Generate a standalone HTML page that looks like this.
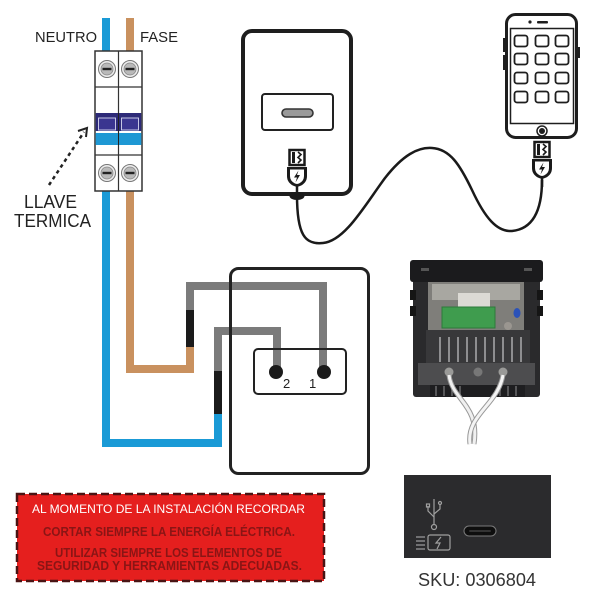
<!DOCTYPE html>
<html>
<head>
<meta charset="utf-8">
<style>
  html,body{margin:0;padding:0;background:#fff;}
  svg{display:block;}
  text{font-family:"Liberation Sans",Arial,sans-serif;}
</style>
</head>
<body>
<svg width="600" height="600" viewBox="0 0 600 600" xmlns="http://www.w3.org/2000/svg">
  <rect width="600" height="600" fill="#fff"/>
  <defs>
    <g id="plug">
      <rect x="-7.5" y="0" width="15" height="15" fill="#fff" stroke="#1a1a1a" stroke-width="2.5"/>
      <rect x="-5" y="2" width="3" height="11" fill="#1a1a1a"/>
      <path d="M1,2 L4,4.5 L1,7.5 L4,10 L1,13" fill="none" stroke="#1a1a1a" stroke-width="1.6"/>
      <path d="M-10,17 H10 V26 Q10,33 3,36 L0,37 L-3,36 Q-10,33 -10,26 Z" fill="#1a1a1a"/>
      <path d="M-7,19.5 H7 V26 Q7,31 2,33.5 L0,34 L-2,33.5 Q-7,31 -7,26 Z" fill="#fff"/>
      <path d="M1.5,20.5 L-3,27.5 L0,27.5 L-1.5,32.5 L3,25 L0,25 Z" fill="#1a1a1a"/>
      <line x1="0" y1="36" x2="0" y2="45" stroke="#1a1a1a" stroke-width="2.5"/>
    </g>
  </defs>

  <!-- ===== Wires ===== -->
  <g fill="none" stroke-linejoin="miter" stroke-linecap="butt" stroke-width="8">
    <path d="M106,18 V443 H218 V413" stroke="#1a9ad6"/>
    <path d="M218,414 V370" stroke="#1b1b1b"/>
    <path d="M218,371 V331 H277 V372" stroke="#7b7b7b"/>
    <path d="M130,18 V369 H190 V346" stroke="#c9915f"/>
    <path d="M190,347 V309" stroke="#1b1b1b"/>
    <path d="M190,310 V286 H323 V372" stroke="#7b7b7b"/>
  </g>

  <!-- ===== Breaker ===== -->
  <rect x="95" y="51" width="47" height="140" fill="#fff" stroke="#333" stroke-width="1.5"/>
  <line x1="118.5" y1="51" x2="118.5" y2="191" stroke="#333" stroke-width="1.2"/>
  <line x1="95" y1="87" x2="142" y2="87" stroke="#333" stroke-width="1.2"/>
  <line x1="95" y1="155" x2="142" y2="155" stroke="#333" stroke-width="1.2"/>
  <rect x="95.7" y="113" width="45.6" height="18" fill="#2d2a78"/>
  <rect x="98.5" y="118" width="17" height="12" fill="#3a3590" stroke="#d6d6f0" stroke-width="0.9"/>
  <rect x="121.5" y="118" width="17" height="12" fill="#3a3590" stroke="#d6d6f0" stroke-width="0.9"/>
  <rect x="95.7" y="133" width="45.6" height="12" fill="#1e98d4"/>
  <line x1="118.5" y1="113" x2="118.5" y2="145" stroke="#222" stroke-width="1"/>
  <g>
    <g transform="translate(107,69)"><circle r="8.5" fill="#ececec" stroke="#777" stroke-width="1"/><circle r="6" fill="#b9b9b9" stroke="#888" stroke-width="0.8"/><rect x="-4.5" y="-1.2" width="9" height="2.4" fill="#222"/></g>
    <g transform="translate(130,69)"><circle r="8.5" fill="#ececec" stroke="#777" stroke-width="1"/><circle r="6" fill="#b9b9b9" stroke="#888" stroke-width="0.8"/><rect x="-4.5" y="-1.2" width="9" height="2.4" fill="#222"/></g>
    <g transform="translate(107,173)"><circle r="8.5" fill="#ececec" stroke="#777" stroke-width="1"/><circle r="6" fill="#b9b9b9" stroke="#888" stroke-width="0.8"/><rect x="-4.5" y="-1.2" width="9" height="2.4" fill="#222"/></g>
    <g transform="translate(130,173)"><circle r="8.5" fill="#ececec" stroke="#777" stroke-width="1"/><circle r="6" fill="#b9b9b9" stroke="#888" stroke-width="0.8"/><rect x="-4.5" y="-1.2" width="9" height="2.4" fill="#222"/></g>
  </g>

  <text x="35" y="42" font-size="15" fill="#222" textLength="62" lengthAdjust="spacingAndGlyphs">NEUTRO</text>
  <text x="140" y="42" font-size="15" fill="#222" textLength="38" lengthAdjust="spacingAndGlyphs">FASE</text>

  <!-- dotted arrow -->
  <line x1="49" y1="185" x2="84" y2="132" stroke="#222" stroke-width="2.5" stroke-dasharray="3.5,3.5"/>
  <polyline points="78,131 87,128 86,137" fill="none" stroke="#222" stroke-width="2"/>
  <text x="24" y="208" font-size="18" fill="#222" textLength="53" lengthAdjust="spacingAndGlyphs">LLAVE</text>
  <text x="14" y="227" font-size="18" fill="#222" textLength="77" lengthAdjust="spacingAndGlyphs">TERMICA</text>

  <!-- ===== Switch outlet ===== -->
  <rect x="230.5" y="268.5" width="138" height="205" rx="8" fill="none" stroke="#222" stroke-width="3"/>
  <rect x="254" y="349" width="92" height="45" rx="4" fill="none" stroke="#222" stroke-width="2"/>
  <circle cx="276" cy="372" r="7" fill="#1b1b1b"/>
  <circle cx="324" cy="372" r="7" fill="#1b1b1b"/>
  <text x="283" y="388" font-size="13" fill="#222">2</text>
  <text x="309" y="388" font-size="13" fill="#222">1</text>

  <!-- ===== USB outlet ===== -->
  <rect x="243" y="31" width="108" height="163" rx="9" fill="none" stroke="#1e1e1e" stroke-width="4"/>
  <rect x="262" y="94" width="71" height="36" rx="3" fill="none" stroke="#222" stroke-width="2"/>
  <rect x="282" y="109" width="31" height="8" rx="4" fill="#9a9a9a" stroke="#333" stroke-width="1.6"/>
  <use href="#plug" x="297" y="150"/>
  <ellipse cx="297" cy="196" rx="7.5" ry="4" fill="#1a1a1a"/>

  <!-- cable -->
  <path d="M297,195 C297,235 305,245 323,243 C345,241 365,205 385,178 C403,155 418,147 432,148 C450,149 460,165 472,190 C485,218 497,232 512,231 C532,229 542,212 542,180" fill="none" stroke="#1a1a1a" stroke-width="2.5"/>

  <!-- ===== Phone ===== -->
  <rect x="503" y="38" width="3" height="14" fill="#1e1e1e"/>
  <rect x="503" y="55" width="3" height="15" fill="#1e1e1e"/>
  <rect x="577" y="47" width="3" height="11" fill="#1e1e1e"/>
  <rect x="506.5" y="14.5" width="70" height="123" rx="9" fill="#fff" stroke="#1e1e1e" stroke-width="3"/>
  <rect x="510.5" y="28.5" width="63" height="95" fill="none" stroke="#1e1e1e" stroke-width="1.5"/>
  <rect x="537" y="21" width="11" height="2.5" rx="1" fill="#1e1e1e"/>
  <circle cx="530" cy="22" r="1.6" fill="#1e1e1e"/>
  <circle cx="542" cy="131" r="5" fill="none" stroke="#1e1e1e" stroke-width="1.5"/>
  <circle cx="542" cy="131" r="3" fill="#1e1e1e"/>
  <g fill="none" stroke="#1e1e1e" stroke-width="1.8">
    <rect x="514.5" y="35.5" width="13" height="11" rx="2.5"/>
    <rect x="535.5" y="35.5" width="13" height="11" rx="2.5"/>
    <rect x="555.5" y="35.5" width="13" height="11" rx="2.5"/>
    <rect x="514.5" y="53.5" width="13" height="11" rx="2.5"/>
    <rect x="535.5" y="53.5" width="13" height="11" rx="2.5"/>
    <rect x="555.5" y="53.5" width="13" height="11" rx="2.5"/>
    <rect x="514.5" y="72.5" width="13" height="11" rx="2.5"/>
    <rect x="535.5" y="72.5" width="13" height="11" rx="2.5"/>
    <rect x="555.5" y="72.5" width="13" height="11" rx="2.5"/>
    <rect x="514.5" y="91.5" width="13" height="11" rx="2.5"/>
    <rect x="535.5" y="91.5" width="13" height="11" rx="2.5"/>
    <rect x="555.5" y="91.5" width="13" height="11" rx="2.5"/>
  </g>
  <use href="#plug" x="542" y="142"/>

  <!-- ===== Photo module ===== -->
  <g>
    <rect x="413" y="262" width="127" height="135" rx="3" fill="#2a2a2c"/>
    <rect x="410" y="260" width="133" height="22" rx="3" fill="#1b1b1d"/>
    <rect x="421" y="268" width="8" height="3" fill="#555"/>
    <rect x="524" y="268" width="8" height="3" fill="#555"/>
    <rect x="410" y="290" width="6" height="10" fill="#151515"/>
    <rect x="410" y="306" width="6" height="10" fill="#151515"/>
    <rect x="537" y="290" width="6" height="10" fill="#151515"/>
    <rect x="537" y="306" width="6" height="10" fill="#151515"/>
    <rect x="428" y="282" width="96" height="54" fill="#7f7e7a"/>
    <rect x="432" y="284" width="88" height="16" fill="#a8a7a1"/>
    <rect x="458" y="293" width="32" height="16" fill="#dcdad4"/>
    <rect x="442" y="307" width="53" height="21" fill="#3f9c4e" stroke="#2c7a3a" stroke-width="1"/>
    <ellipse cx="517" cy="313" rx="3.5" ry="5" fill="#2b52b8"/>
    <circle cx="508" cy="326" r="4" fill="#9a9690"/>
    <rect x="426" y="330" width="104" height="35" fill="#38383a"/>
    <g stroke="#8e8e90" stroke-width="2">
      <line x1="440" y1="337" x2="440" y2="362"/>
      <line x1="449" y1="337" x2="449" y2="362"/>
      <line x1="458" y1="337" x2="458" y2="362"/>
      <line x1="467" y1="337" x2="467" y2="362"/>
      <line x1="476" y1="337" x2="476" y2="362"/>
      <line x1="485" y1="337" x2="485" y2="362"/>
      <line x1="494" y1="337" x2="494" y2="362"/>
      <line x1="503" y1="337" x2="503" y2="362"/>
      <line x1="512" y1="337" x2="512" y2="362"/>
      <line x1="521" y1="337" x2="521" y2="362"/>
    </g>
    <rect x="418" y="363" width="117" height="22" fill="#4d4d4f"/>
    <rect x="430" y="385" width="95" height="12" fill="#1e1e20"/>
    <g stroke="#6a6a6c" stroke-width="1.5">
      <line x1="436" y1="386" x2="436" y2="396"/><line x1="444" y1="386" x2="444" y2="396"/>
      <line x1="452" y1="386" x2="452" y2="396"/><line x1="460" y1="386" x2="460" y2="396"/>
      <line x1="500" y1="386" x2="500" y2="396"/><line x1="508" y1="386" x2="508" y2="396"/>
      <line x1="516" y1="386" x2="516" y2="396"/>
    </g>
    <circle cx="449" cy="372" r="4.5" fill="#9a9a98"/>
    <circle cx="478" cy="372" r="4.5" fill="#777"/>
    <circle cx="503" cy="372" r="4.5" fill="#9a9a98"/>
    <path d="M449,375 C452,400 480,405 474,444" fill="none" stroke="#999" stroke-width="5"/>
    <path d="M449,375 C452,400 480,405 474,444" fill="none" stroke="#f0f0f0" stroke-width="3"/>
    <path d="M503,375 C498,405 466,415 470,444" fill="none" stroke="#999" stroke-width="5"/>
    <path d="M503,375 C498,405 466,415 470,444" fill="none" stroke="#f4f4f4" stroke-width="3"/>
  </g>

  <!-- ===== Warning box ===== -->
  <rect x="17" y="494" width="307" height="87" fill="#e51f1e" stroke="#4a1414" stroke-width="2.5" stroke-dasharray="8,4"/>
  <text x="32" y="513" font-size="11.5" fill="#fff" textLength="273" lengthAdjust="spacingAndGlyphs">AL MOMENTO DE LA INSTALACIÓN RECORDAR</text>
  <text x="43" y="536" font-size="12.5" font-weight="bold" fill="#8a1515" textLength="252" lengthAdjust="spacingAndGlyphs">CORTAR SIEMPRE LA ENERGÍA ELÉCTRICA.</text>
  <text x="55" y="557" font-size="12.5" font-weight="bold" fill="#8a1515" textLength="227" lengthAdjust="spacingAndGlyphs">UTILIZAR SIEMPRE LOS ELEMENTOS DE</text>
  <text x="37" y="570" font-size="12.5" font-weight="bold" fill="#8a1515" textLength="265" lengthAdjust="spacingAndGlyphs">SEGURIDAD Y HERRAMIENTAS ADECUADAS.</text>

  <!-- ===== Black module ===== -->
  <rect x="404" y="475" width="147" height="83" fill="#2b2b2d"/>
  <rect x="464" y="526" width="32" height="10" rx="5" fill="#0e0e0e" stroke="#7a7a7a" stroke-width="1"/>
  <rect x="469" y="530" width="22" height="2" rx="1" fill="#333"/>
  <g stroke="#a0a0a0" stroke-width="1.2" fill="none">
    <line x1="434" y1="499" x2="434" y2="524"/>
    <path d="M434,517 L428,511 V506"/>
    <path d="M434,514 L440,509 V504"/>
    <circle cx="434" cy="527" r="2.5"/>
    <rect x="426.5" y="504" width="3" height="3"/>
    <circle cx="440" cy="503" r="1.5"/>
    <line x1="416" y1="537" x2="425" y2="537"/>
    <line x1="416" y1="541" x2="425" y2="541"/>
    <line x1="416" y1="545" x2="425" y2="545"/>
    <line x1="416" y1="549" x2="425" y2="549"/>
    <rect x="428" y="535" width="22" height="15" rx="2"/>
    <path d="M441,537 L436,543 H440 L437,549"/>
  </g>
  <text x="418" y="586" font-size="18" fill="#333" textLength="118" lengthAdjust="spacingAndGlyphs">SKU: 0306804</text>
</svg>
</body>
</html>
